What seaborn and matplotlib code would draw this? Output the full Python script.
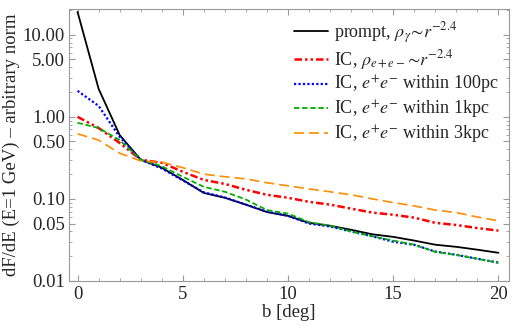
import numpy as np
import pandas as pd
import seaborn as sns
import matplotlib.pyplot as plt
from matplotlib.ticker import FixedLocator, FixedFormatter, MultipleLocator, LogLocator, NullFormatter

b = list(range(21))

prompt = [19.0, 2.2, 0.60, 0.30, 0.24, 0.17, 0.118, 0.103, 0.085, 0.069, 0.062,
          0.051, 0.047, 0.042, 0.037, 0.0344, 0.031, 0.0276, 0.026, 0.024, 0.022]
ic_r24 = [1.0, 0.73, 0.48, 0.30, 0.275, 0.214, 0.17, 0.152, 0.129, 0.112, 0.103,
          0.092, 0.085, 0.076, 0.068, 0.064, 0.059, 0.051, 0.048, 0.044, 0.041]
ic_100pc = [2.07, 1.36, 0.57, 0.30, 0.235, 0.168, 0.12, 0.104, 0.085, 0.07, 0.062,
            0.05, 0.046, 0.040, 0.035, 0.030, 0.0275, 0.0228, 0.0208, 0.0186, 0.0167]
ic_1kpc = [0.845, 0.73, 0.52, 0.30, 0.25, 0.186, 0.14, 0.122, 0.098, 0.073, 0.066,
           0.052, 0.047, 0.040, 0.035, 0.031, 0.0276, 0.0226, 0.0207, 0.0186, 0.0166]
ic_3kpc = [0.62, 0.52, 0.36, 0.29, 0.28, 0.24, 0.20, 0.186, 0.175, 0.157, 0.144,
           0.132, 0.122, 0.112, 0.10, 0.09, 0.082, 0.073, 0.068, 0.060, 0.054]

labels = [r"prompt, $\rho_\gamma\!\sim\! r^{-2.4}$",
          r"IC, $\rho_{e+e-}\!\sim\! r^{-2.4}$",
          r"IC, $e^{+}e^{-}$ within 100pc",
          r"IC, $e^{+}e^{-}$ within 1kpc",
          r"IC, $e^{+}e^{-}$ within 3kpc"]

sns.set_style("ticks")
plt.rcParams["font.family"] = ["Liberation Serif", "DejaVu Serif"]
plt.rcParams["mathtext.fontset"] = "stix"

fig = plt.figure(figsize=(5.12, 3.27), dpi=100)
ax = fig.add_axes([0.135, 0.141, 0.859, 0.831])

series = [prompt, ic_r24, ic_100pc, ic_1kpc, ic_3kpc]
colors = ["black", "#ff0000", "#0000ff", "#00b000", "#ff8c00"]
dashes = ["-", (0, (3, 1.2, 1, 1.2, 1, 1.2)), (0, (1, 1)), (0, (3, 1.5)), (0, (6, 3))]
widths = [1.3, 1.8, 1.6, 1.3, 1.2]

for vals, lab, c, ls, lw in zip(series, labels, colors, dashes, widths):
    df = pd.DataFrame({"b": b, "flux": vals})
    sns.lineplot(data=df, x="b", y="flux", ax=ax, color=c, linestyle=ls, linewidth=lw, label=lab)

ax.set_yscale("log")
ax.set_xlim(-0.4, 20.5)
ax.set_ylim(0.01, 20.5)

yt = [0.01, 0.05, 0.1, 0.5, 1, 5, 10]
ax.yaxis.set_major_locator(FixedLocator(yt))
ax.yaxis.set_major_formatter(FixedFormatter(["0.01", "0.05", "0.10", "0.50", "1.00", "5.00", "10.00"]))
ax.yaxis.set_minor_locator(LogLocator(base=10, subs=np.arange(2, 10)))
ax.yaxis.set_minor_formatter(NullFormatter())
ax.xaxis.set_major_locator(MultipleLocator(5))
ax.xaxis.set_minor_locator(MultipleLocator(1))

ax.tick_params(which="both", direction="in", top=True, right=True, color="#999999", labelsize=13.5)
ax.tick_params(which="major", length=4)
ax.tick_params(which="minor", length=2)
ax.tick_params(axis="y", pad=3)
for s in ax.spines.values():
    s.set_color("#999999")
    s.set_linewidth(0.8)

ax.set_xlabel("b [deg]", fontsize=13.5, labelpad=1)
ax.set_ylabel("dF/dE (E=1 GeV) \u2013 arbitrary norm", fontsize=13.5, labelpad=2)

ax.legend(loc="upper right", frameon=False, fontsize=13, handlelength=1.9,
          handletextpad=0.3, labelspacing=0.12, borderaxespad=0.2)

fig.savefig("out.png", dpi=100)
